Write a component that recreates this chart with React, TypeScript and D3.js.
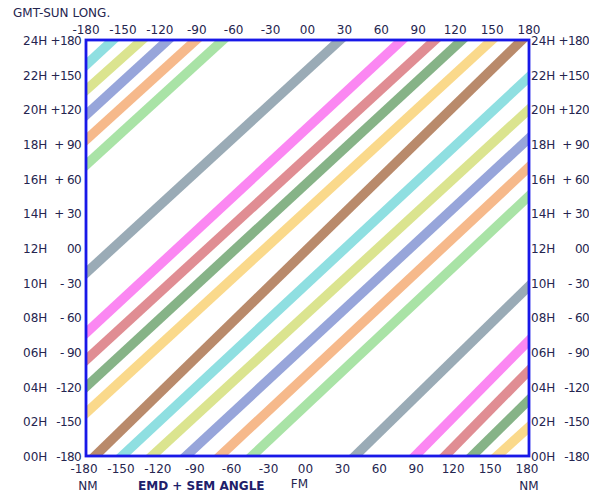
import React from 'react';
import * as d3 from 'd3';

// ---- data ----
const tickValues = [-180, -150, -120, -90, -60, -30, 0, 30, 60, 90, 120, 150, 180];
const xTickLabels = ['-180', '-150', '-120', '-90', '-60', '-30', '00', '30', '60', '90', '120', '150', '180'];
const hourLabels = ['00H', '02H', '04H', '06H', '08H', '10H', '12H', '14H', '16H', '18H', '20H', '22H', '24H'];
const degLabels = ['-180', '-150', '-120', '- 90', '- 60', '- 30', '00', '+ 30', '+ 60', '+ 90', '+120', '+150', '+180'];

const bandNames = ['brown', 'cyan', 'yellowgreen', 'periwinkle', 'orange', 'lightgreen', 'gray', 'magenta', 'red', 'green', 'gold'];
const bandColors = ['#b98a6b', '#8fdfe1', '#dbe48f', '#97a5da', '#f6b98b', '#a9e3a6', '#9aabb6', '#fb87f2', '#e08d93', '#86b387', '#fad98b'];
// upper part of each band: enters at left edge (EMD+SEM angle = -180) at this GMT-sun long., leaves at top edge (+180) at this angle
const upperLeftY = [null, 158.4, 136.7, 115.1, 93.5, 71.8, -21.6, -73.6, -96.9, -120.2, -142.8];
const upperTopX = [174.3, -158.1, -134.5, -113.4, -90.6, -68.7, 26.4, 76.8, 103.6, 125.5, 149.9];
// lower part: enters at bottom edge (-180) at this angle, leaves at right edge (+180) at this GMT-sun long.
const lowerBottomX = [-172.7, -150.7, -126.4, -98.7, -71.1, -45.1, 38.6, 87.4, 111.7, 133.7, 154.0];
const lowerRightY = [null, 148, 120, 95, 70, 45, -33, -80, -106, -131.5, -154.9];

// ---- layout ----
const W = 589;
const H = 495;
const left = 86, right = 529, top = 40, bottom = 456;
const textColor = '#25254f';
const font = '"DejaVu Sans", Verdana, sans-serif';

export default function App() {
  const x = d3.scaleLinear().domain([-180, 180]).range([left, right]);
  const y = d3.scaleLinear().domain([-180, 180]).range([bottom, top]);

  type Seg = { color: string; p0: [number, number]; p1: [number, number]; key: string };
  const segs: Seg[] = [];
  bandNames.forEach((name, i) => {
    const color = bandColors[i];
    const ly = upperLeftY[i];
    const ry = lowerRightY[i];
    if (ly === null && ry === null) {
      segs.push({ key: name, color, p0: [lowerBottomX[i], -180], p1: [upperTopX[i], 180] });
    } else {
      if (ly !== null) segs.push({ key: name + 'u', color, p0: [-180, ly], p1: [upperTopX[i], 180] });
      if (ry !== null) segs.push({ key: name + 'l', color, p0: [lowerBottomX[i], -180], p1: [180, ry] });
    }
  });

  const line = d3.line<[number, number]>().x((d) => x(d[0])).y((d) => y(d[1]));
  const extend = (p0: [number, number], p1: [number, number]): [number, number][] => {
    const dx = p1[0] - p0[0];
    const dy = p1[1] - p0[1];
    const t = 0.15;
    return [
      [p0[0] - dx * t, p0[1] - dy * t],
      [p1[0] + dx * t, p1[1] + dy * t],
    ];
  };

  return (
    <svg width={W} height={H} style={{ position: 'absolute', left: 0, top: 0, background: '#fff' }} fontFamily={font}>
      <defs>
        <clipPath id="plotclip">
          <rect x={left} y={top} width={right - left} height={bottom - top} />
        </clipPath>
      </defs>
      <rect x={0} y={0} width={W} height={H} fill="#fff" />

      <g clipPath="url(#plotclip)">
        {segs.map((s) => (
          <path key={s.key} d={line(extend(s.p0, s.p1)) || ''} stroke={s.color} strokeWidth={9.5} fill="none" />
        ))}
      </g>

      <rect x={left} y={top} width={right - left} height={bottom - top} fill="none" stroke="#1818e8" strokeWidth={2.8} />

      <text x={13} y={17} fontSize={12} fill={textColor}>GMT-SUN LONG.</text>

      {tickValues.map((v, i) => (
        <text key={'tt' + v} x={x(v)} y={34} fontSize={12} fill={textColor} textAnchor="middle">{xTickLabels[i]}</text>
      ))}
      {tickValues.map((v, i) => (
        <text key={'bt' + v} x={x(v) - 2} y={473} fontSize={12} fill={textColor} textAnchor="middle">{xTickLabels[i]}</text>
      ))}

      {tickValues.map((v, i) => (
        <g key={'yl' + v}>
          <text x={23} y={y(v) + 5} fontSize={12} fill={textColor}>{hourLabels[i]}</text>
          <text x={81} y={y(v) + 5} fontSize={12} fill={textColor} textAnchor="end" letterSpacing={-0.6} style={{ whiteSpace: 'pre' }}>{degLabels[i]}</text>
          <text x={531} y={y(v) + 5} fontSize={12} fill={textColor}>{hourLabels[i]}</text>
          <text x={589} y={y(v) + 5} fontSize={12} fill={textColor} textAnchor="end" letterSpacing={-0.6} style={{ whiteSpace: 'pre' }}>{degLabels[i]}</text>
        </g>
      ))}

      <text x={x(-180) + 2} y={490} fontSize={12} fill={textColor} textAnchor="middle">NM</text>
      <text x={138} y={490} fontSize={12} fontWeight="bold" fill="#20206a">EMD + SEM ANGLE</text>
      <text x={x(0) - 8} y={488} fontSize={12} fill={textColor} textAnchor="middle">FM</text>
      <text x={x(180)} y={490} fontSize={12} fill={textColor} textAnchor="middle">NM</text>
    </svg>
  );
}
